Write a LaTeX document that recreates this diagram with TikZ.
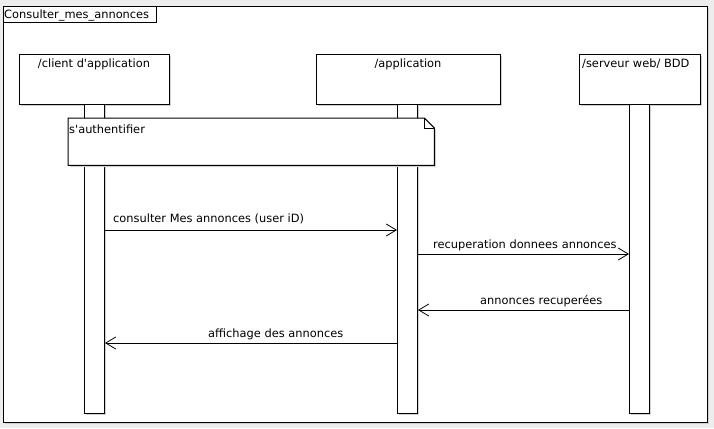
\documentclass[tikz,border=0pt]{standalone}
\usepackage{fontspec}
\setmainfont{DejaVu Sans}
\usetikzlibrary{arrows.meta}
\begin{document}
\begin{tikzpicture}[x=1pt,y=-1pt,
  box/.style={draw=black,line width=1pt,fill=white,inner sep=0pt,anchor=north west},
  lbl/.style={inner sep=0pt,font=\fontsize{11.4}{13}\selectfont},
  msg/.style={draw=black,line width=0.8pt,-{Straight Barb[length=10pt,width=12pt,line width=0.8pt]}},
  shadow/.style={fill=black!18,draw=none}]
\useasboundingbox (0,0) rectangle (714,428);
\fill[black!7] (0,0) rectangle (714,428);
% frame
\fill[shadow] (5,8) rectangle (709,424);
\node[box,minimum width=704pt,minimum height=416pt] (frame) at (3,6) {};
\node[box,minimum width=153pt,minimum height=16pt] (title) at (3,6) {};
\node[lbl,anchor=base west] (titletext) at (4,18.5) {Consulter\_mes\_annonces};
% headers
\fill[shadow] (21,56) rectangle (171,106);
\fill[shadow] (318,56) rectangle (502,106);
\fill[shadow] (581,56) rectangle (702,106);
\node[box,minimum width=150pt,minimum height=50pt] (client) at (19,54) {};
\node[box,minimum width=184pt,minimum height=50pt] (app) at (316,54) {};
\node[box,minimum width=121pt,minimum height=50pt] (srv) at (579,54) {};
\node[lbl,anchor=base] (clienttext) at (94,67) {/client d\textquotesingle application};
\node[lbl,anchor=base] (apptext) at (408,67) {/application};
\node[lbl,anchor=base west] (srvtext) at (582,67) {/serveur web/ BDD};
% bars
\fill[shadow] (86,106) rectangle (106,415);
\fill[shadow] (399,106) rectangle (419,415);
\fill[shadow] (631,106) rectangle (651,415);
\node[box,minimum width=20pt,minimum height=309pt] (cbar) at (84,104) {};
\node[box,minimum width=20pt,minimum height=309pt] (abar) at (397,104) {};
\node[box,minimum width=20pt,minimum height=309pt] (sbar) at (629,104) {};
% note
\node[inner sep=0pt,minimum width=366pt,minimum height=47pt,anchor=north west] (note) at (68,118) {};
\fill[shadow] (70,120) -- (426,120) -- (436,130) -- (436,167) -- (70,167) -- cycle;
\draw[line width=1pt,fill=white] (note.north west) -- ([xshift=-10pt]note.north east) -- ([yshift=-10pt]note.north east) -- (note.south east) -- (note.south west) -- cycle;
\draw[line width=0.8pt] ([xshift=-10pt]note.north east) -- ([xshift=-10pt,yshift=-10pt]note.north east) -- ([yshift=-10pt]note.north east);
\node[lbl,anchor=base west] (notetext) at (69,133) {s\textquotesingle authentifier};
% messages
\draw[msg] (cbar.east |- 0,230) -- (abar.west |- 0,230);
\node[lbl,anchor=base west] (m1) at (113,222) {consulter Mes annonces (user iD)};
\draw[msg] (abar.east |- 0,254) -- (sbar.west |- 0,254);
\node[lbl,anchor=base west] (m2) at (433,248) {recuperation donnees annonces};
\draw[msg] (sbar.west |- 0,310) -- (abar.east |- 0,310);
\node[lbl,anchor=base west] (m3) at (480,304) {annonces recuperées};
\draw[msg] (abar.west |- 0,343) -- (cbar.east |- 0,343);
\node[lbl,anchor=base west] (m4) at (208,337) {affichage des annonces};
\end{tikzpicture}
\end{document}
